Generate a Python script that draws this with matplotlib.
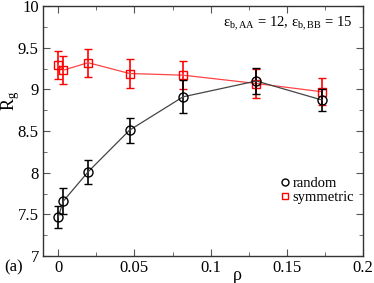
import matplotlib
matplotlib.use("Agg")
import matplotlib.pyplot as plt
from matplotlib.ticker import MultipleLocator
import matplotlib.lines as mlines

rho_random = [0.0, 0.0034, 0.0196, 0.0468, 0.0819, 0.130, 0.1734]
rg_random = [7.47, 7.66, 8.01, 8.51, 8.91, 9.10, 8.87]
err_random = [0.13, 0.15, 0.14, 0.15, 0.20, 0.16, 0.13]

rho_sym = [0.0, 0.0034, 0.0196, 0.0468, 0.0819, 0.130, 0.1734]
rg_sym = [9.29, 9.23, 9.32, 9.19, 9.17, 9.07, 8.97]
err_sym = [0.17, 0.17, 0.17, 0.17, 0.17, 0.18, 0.16]

plt.rcParams['font.family'] = ['Liberation Serif', 'DejaVu Serif']
plt.rcParams['mathtext.fontset'] = 'custom'
plt.rcParams['mathtext.rm'] = 'Liberation Serif'
plt.rcParams['mathtext.it'] = 'Liberation Serif'

fig = plt.figure(figsize=(3.74, 2.83), dpi=100)
ax = fig.add_axes([43/374, 1-256/283, 320/374, 250/283])

ax.errorbar(rho_random, rg_random, yerr=err_random, color='#444444', lw=0.9,
            marker='o', ms=6.5, mfc='none', mec='black', mew=1.0,
            ecolor='black', elinewidth=1.2, capsize=3, capthick=1.2, label='random', zorder=3)
ax.errorbar(rho_sym, rg_sym, yerr=err_sym, color='#ff4444', lw=0.9,
            marker='s', ms=6, mfc='none', mec='red', mew=1.0,
            ecolor='red', elinewidth=1.2, capsize=3, capthick=1.2, label='symmetric', zorder=2)

ax.set_xlim(-0.01, 0.2)
ax.set_ylim(7, 10)
ax.xaxis.set_minor_locator(MultipleLocator(0.025))
ax.yaxis.set_minor_locator(MultipleLocator(0.25))
ax.set_xticks([0, 0.05, 0.1, 0.15, 0.2])
ax.set_xticklabels(['0', '0.05', '0.1', '0.15', '0.2'])
ax.set_yticks([7, 7.5, 8, 8.5, 9, 9.5, 10])
ax.set_yticklabels(['7', '7.5', '8', '8.5', '9', '9.5', '10'])
ax.tick_params(which='both', direction='in', top=True, right=True, labelsize=12, color='#555555')
ax.tick_params(which='major', length=5, pad=3)
ax.tick_params(which='minor', length=3)
for s in ax.spines.values():
    s.set_color('#333333')
    s.set_linewidth(1.0)

fig.text(237/374, 1-275/283, 'ρ', fontsize=13, ha='center', va='center')
fig.text(11/374, 1-101/283, r'R$_\mathrm{g}$', fontsize=13, ha='center', va='center', rotation=90)

ax.text(0.967, 0.93, r'ε$_\mathrm{b,AA}$ = 12, ε$_\mathrm{b,BB}$ = 15', transform=ax.transAxes,
        ha='right', va='center', fontsize=10.5)
fig.text(4/374, 1-267/283, '(a)', fontsize=12, ha='left', va='center')

hr = mlines.Line2D([], [], marker='o', ms=5, mfc='none', mec='black', ls='none')
hs = mlines.Line2D([], [], marker='s', ms=5, mfc='none', mec='red', ls='none')
ax.legend([hr, hs], ['random', 'symmetric'], loc='center left', bbox_to_anchor=(0.72, 0.262),
          frameon=False, fontsize=10.5, handlelength=0.6, handletextpad=0.2, labelspacing=0.1, borderpad=0)

fig.savefig('out.png', dpi=100)
